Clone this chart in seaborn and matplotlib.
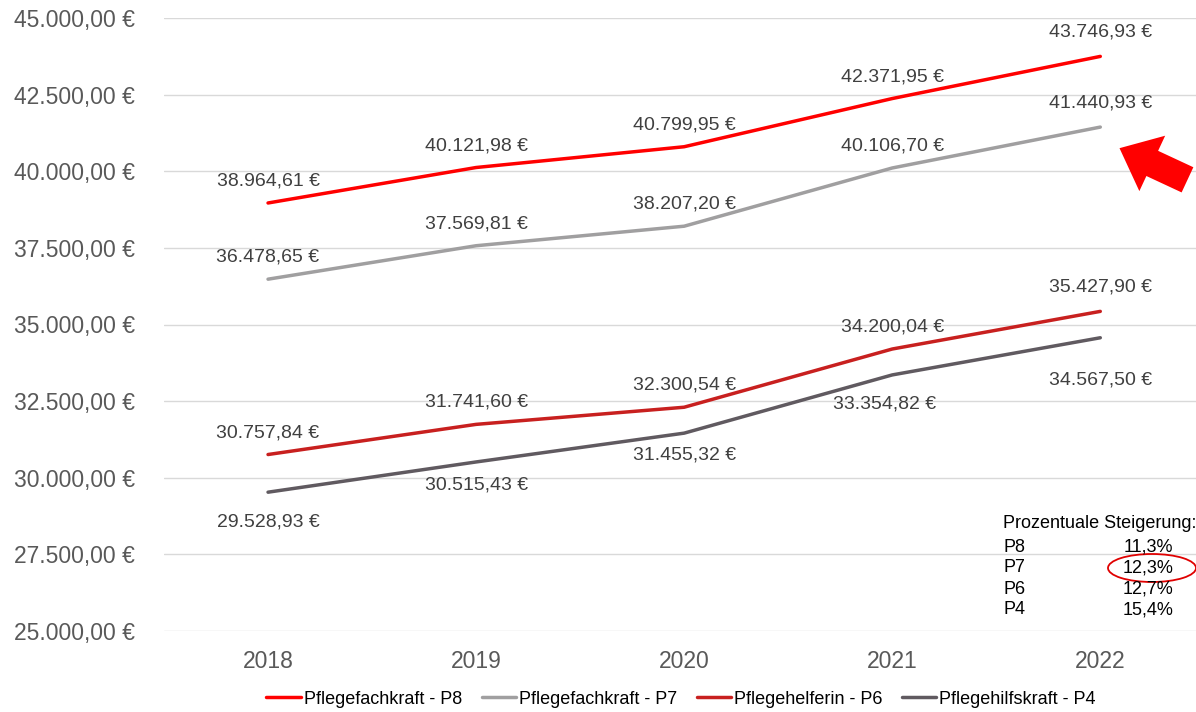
import matplotlib
matplotlib.use("Agg")
import matplotlib.pyplot as plt
import seaborn as sns
import pandas as pd
from matplotlib.patches import FancyArrowPatch, Ellipse

years = ["2018", "2019", "2020", "2021", "2022"]
series_names = ["Pflegefachkraft - P8", "Pflegefachkraft - P7", "Pflegehelferin - P6", "Pflegehilfskraft - P4"]
p8 = [38964.61, 40121.98, 40799.95, 42371.95, 43746.93]
p7 = [36478.65, 37569.81, 38207.20, 40106.70, 41440.93]
p6 = [30757.84, 31741.60, 32300.54, 34200.04, 35427.90]
p4 = [29528.93, 30515.43, 31455.32, 33354.82, 34567.50]
yticks = [25000, 27500, 30000, 32500, 35000, 37500, 40000, 42500, 45000]
table_title = "Prozentuale Steigerung:"
table_rows = ["P8", "P7", "P6", "P4"]
table_vals = ["11,3%", "12,3%", "12,7%", "15,4%"]

colors = ["#FF0000", "#A09FA0", "#C8201F", "#605A60"]
all_vals = [p8, p7, p6, p4]

def de_fmt(v):
    s = f"{v:,.2f}"
    s = s.replace(",", "X").replace(".", ",").replace("X", ".")
    return s + " €"

rows = []
for name, vals in zip(series_names, all_vals):
    for i, v in enumerate(vals):
        rows.append({"x": i, "value": v, "series": name})
df = pd.DataFrame(rows)

sns.set_theme(style="white")
plt.rcParams['font.family'] = ['Liberation Sans', 'DejaVu Sans']

fig = plt.figure(figsize=(11.96, 7.12), dpi=100)
ax = fig.add_axes([164/1196, 1-631/712, 1-164/1196, (631-18)/712])

sns.lineplot(data=df, x="x", y="value", hue="series", palette=colors,
             hue_order=series_names, linewidth=2.5, ax=ax, legend=True)

ax.set_xlim(-0.5, 4.46)
ax.set_ylim(25000, 45000)
ax.set_yticks(yticks)
ax.set_yticklabels([de_fmt(t) for t in yticks])
ax.set_xticks(range(len(years)))
ax.set_xticklabels(years)
ax.tick_params(axis="y", length=0, pad=21, labelsize=16.5, labelcolor="#595959")
ax.tick_params(axis="x", length=0, pad=14, labelsize=16.5, labelcolor="#595959")
ax.set_xlabel("")
ax.set_ylabel("")
ax.grid(axis="y", color="#D9D9D9", linewidth=1)
ax.grid(axis="x", visible=False)
for s in ax.spines.values():
    s.set_visible(False)
ax.set_axisbelow(True)

# data labels (offsets in pixels)
px = 0.72
off_above = [-22, -22, -22, -22, -24]
off_p4 = [30, 23, 22, 29, 42]
xoff_p4 = [0, 0, 0, -8, 0]
for si, vals in enumerate(all_vals):
    for i, v in enumerate(vals):
        if si == 3:
            dy = -off_p4[i] * px
            dx = xoff_p4[i] * px
        else:
            dy = -off_above[i] * px
            dx = 0
        ax.annotate(de_fmt(v), (i, v), xytext=(dx, dy), textcoords="offset points",
                    ha="center", va="center", fontsize=14, color="#404040")

# legend
ax.get_legend().remove()
handles, labels = ax.get_legend_handles_labels()
leg = fig.legend(handles[:4], labels[:4], loc="center", bbox_to_anchor=(681/1196, 1-699/712),
                 ncol=4, frameon=False, fontsize=13, handlelength=1.9, handletextpad=0.15,
                 columnspacing=1.1)
for t in leg.get_texts():
    t.set_color("#000000")

# table of percentage increases
fig.text(1003/1196, 1-524/712, table_title, ha="left", va="center", fontsize=13, color="black")
for k, (r, v) in enumerate(zip(table_rows, table_vals)):
    yy = 1 - (547 + k*21)/712
    fig.text(1003/1196, yy, r, ha="left", va="center", fontsize=13, color="black")
    fig.text(1173/1196, yy, v, ha="right", va="center", fontsize=13, color="black")

ell = Ellipse((1152/1196, 1-568/712), 88/1196, 28/712, transform=fig.transFigure,
              fill=False, edgecolor="#E00000", linewidth=1.3)
fig.add_artist(ell)

arrow = FancyArrowPatch((1190/1196, 1-181/712), (1117/1196, 1-147/712),
                        transform=fig.transFigure,
                        arrowstyle="simple,head_width=2.2,head_length=1.3,tail_width=1.0",
                        mutation_scale=20, color="#FF0000", linewidth=0)
fig.add_artist(arrow)

fig.savefig("out.png", dpi=100)
